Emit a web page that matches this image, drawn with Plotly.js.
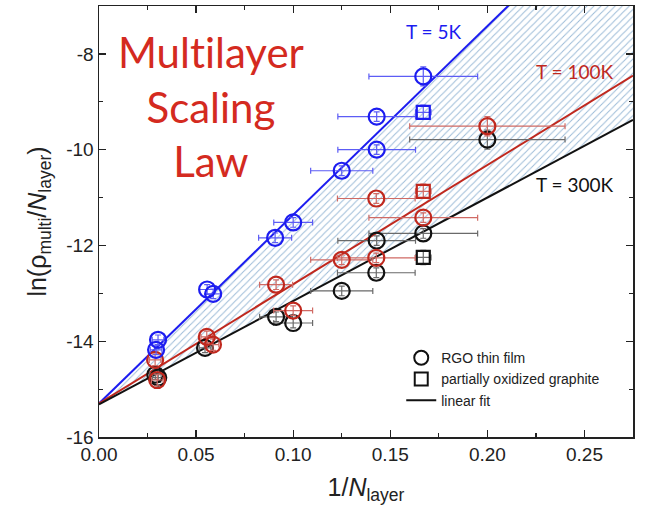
<!DOCTYPE html>
<html>
<head>
<meta charset="utf-8">
<script src="https://cdn.plot.ly/plotly-3.0.1.min.js"></script>
<style>html,body{margin:0;padding:0;background:#fff;}#chart{width:654px;height:517px;}
text{font-variant-ligatures:none;font-feature-settings:"liga" 0;}</style>
</head>
<body>
<div id="chart"></div>
<script>
// ---- Data ----
// T = 5K (blue)
const blueCircX = [0.0294, 0.0304, 0.0557, 0.0588, 0.0907, 0.100, 0.125, 0.143, 0.143, 0.167];
const blueCircY = [-14.18, -13.97, -12.92, -13.01, -11.84, -11.52, -10.44, -10.00, -9.31, -8.47];
const blueCircXErr = [0.003, 0.003, 0.004, 0.004, 0.0085, 0.010, 0.016, 0.020, 0.020, 0.028];
const blueCircYErr = [0.10, 0.10, 0.10, 0.10, 0.10, 0.10, 0.10, 0.10, 0.10, 0.20];
const blueSqX = [0.167];
const blueSqY = [-9.22];
// T = 100K (red)
const redCircX = [0.0289, 0.0300, 0.0555, 0.0587, 0.0912, 0.100, 0.125, 0.1428, 0.1428, 0.167, 0.200];
const redCircY = [-14.39, -14.81, -13.91, -14.07, -12.82, -13.36, -12.30, -12.26, -11.02, -11.42, -9.51];
const redCircXErr = [0.003, 0.003, 0.003, 0.003, 0.0085, 0.010, 0.016, 0.020, 0.020, 0.028, 0.040];
const redCircYErr = [0.12, 0.12, 0.12, 0.12, 0.10, 0.10, 0.10, 0.10, 0.10, 0.10, 0.20];
const redSqX = [0.167];
const redSqY = [-10.87];
// T = 300K (black)
const blackCircX = [0.0290, 0.0305, 0.0546, 0.0912, 0.100, 0.125, 0.1428, 0.143, 0.167, 0.200];
const blackCircY = [-14.70, -14.76, -14.14, -13.49, -13.62, -12.95, -12.57, -11.90, -11.75, -9.79];
const blackCircXErr = [0.003, 0.003, 0.003, 0.0085, 0.010, 0.016, 0.020, 0.020, 0.028, 0.040];
const blackCircYErr = [0.10, 0.10, 0.10, 0.10, 0.10, 0.10, 0.10, 0.10, 0.10, 0.20];
const blackSqX = [0.167];
const blackSqY = [-12.25];
// Linear fits: ln(rho/N) = intercept + slope * (1/N)
const fitLabels = ['T = 5K', 'T = 100K', 'T = 300K'];
const fitIntercepts = [-15.30, -15.30, -15.32];
const fitSlopes = [39.4, 24.9, 21.6];
const fitXRange = [0, 0.275];
// Tick labels
const yTickVals = [-16, -14, -12, -10, -8];
const yTickText = ['-16', '-14', '-12', '-10', '-8'];
const xTickVals = [0, 0.05, 0.10, 0.15, 0.20, 0.25];
const xTickText = ['0.00', '0.05', '0.10', '0.15', '0.20', '0.25'];

// ---- Build traces ----
const BLUE = '#1c1cf0', RED = '#c0281e', BLACK = '#111111';
const fitColors = [BLUE, RED, BLACK];
function fitLine(i) {
  return { x: fitXRange.slice(), y: fitXRange.map(v => fitIntercepts[i] + fitSlopes[i] * v) };
}
const traces = [];
// hatched band between 300K fit and 5K fit
const lb = fitLine(2), lt = fitLine(0);
traces.push({ x: lb.x, y: lb.y, mode: 'lines', line: { width: 0, color: 'rgba(0,0,0,0)' }, showlegend: false, hoverinfo: 'skip' });
traces.push({ x: lt.x, y: lt.y, mode: 'lines', line: { width: 0, color: 'rgba(0,0,0,0)' }, fill: 'tonexty',
  fillcolor: 'rgba(0,0,0,0)',
  fillpattern: { shape: '/', fgcolor: '#9dbcd8', bgcolor: 'rgba(255,255,255,0)', size: 5, solidity: 0.2 },
  showlegend: false, hoverinfo: 'skip' });
// fit lines
for (let i = 0; i < 3; i++) {
  const l = fitLine(i);
  traces.push({ x: l.x, y: l.y, mode: 'lines', line: { width: 2, color: fitColors[i] }, showlegend: false });
}
function pts(x, y, xe, ye, color, ecolor, symbol) {
  return {
    x: x, y: y, mode: 'markers', showlegend: false,
    marker: { symbol: symbol, size: symbol === 'circle-open' ? 16 : 13, color: color, line: { width: 2.2, color: color } },
    error_x: { type: 'data', array: xe, color: ecolor, thickness: 1.2, width: 3 },
    error_y: { type: 'data', array: ye, color: ecolor, thickness: 1.2, width: 3 }
  };
}
traces.push(pts(blackCircX, blackCircY, blackCircXErr, blackCircYErr, BLACK, '#6a6a6a', 'circle-open'));
traces.push(pts(blackSqX, blackSqY, [0.004], [0.15], BLACK, '#6a6a6a', 'square-open'));
traces.push(pts(redCircX, redCircY, redCircXErr, redCircYErr, RED, '#d06a64', 'circle-open'));
traces.push(pts(redSqX, redSqY, [0.004], [0.15], RED, '#d06a64', 'square-open'));
traces.push(pts(blueCircX, blueCircY, blueCircXErr, blueCircYErr, BLUE, '#5c5cf5', 'circle-open'));
traces.push(pts(blueSqX, blueSqY, [0.004], [0.15], BLUE, '#5c5cf5', 'square-open'));
// legend entries
traces.push({ x: [null], y: [null], mode: 'markers', name: 'RGO thin film', marker: { symbol: 'circle-open', size: 14, color: BLACK, line: { width: 2 } } });
traces.push({ x: [null], y: [null], mode: 'markers', name: 'partially oxidized graphite', marker: { symbol: 'square-open', size: 13, color: BLACK, line: { width: 2 } } });
traces.push({ x: [null], y: [null], mode: 'lines', name: 'linear fit', line: { color: BLACK, width: 2 } });

const labelPos = [[0.1725, -7.53], [0.245, -8.36], [0.245, -10.73]];
const annotations = fitLabels.map((t, i) => ({
  text: t, x: labelPos[i][0], y: labelPos[i][1], xref: 'x', yref: 'y', showarrow: false,
  font: { family: 'Lato, sans-serif', size: 19, color: fitColors[i] }, xanchor: 'center', yanchor: 'middle'
}));
annotations.push({
  text: 'Multilayer<br>Scaling<br>Law', x: 0.0577, y: -9.1, xref: 'x', yref: 'y', showarrow: false,
  font: { family: 'Lato, sans-serif', size: 42, color: '#d42a20' }, align: 'center', xanchor: 'center', yanchor: 'middle'
});

const axisCommon = {
  showline: true, linecolor: '#222', linewidth: 1.5, mirror: 'allticks',
  ticks: 'inside', ticklen: 7, tickwidth: 1.3, tickcolor: '#222',
  showgrid: false, zeroline: false,
  tickfont: { family: 'Liberation Sans, Arial, sans-serif', size: 19, color: '#222' }
};
const layout = {
  width: 654, height: 517,
  margin: { l: 99, r: 21, t: 6, b: 80 },
  paper_bgcolor: '#fff', plot_bgcolor: '#fff',
  showlegend: true,
  legend: { x: 0.566, y: 0.22, xanchor: 'left', yanchor: 'top', bgcolor: 'rgba(0,0,0,0)', traceorder: 'normal',
    font: { family: 'Liberation Sans, Arial, sans-serif', size: 14, color: '#222' }, tracegroupgap: 0, itemsizing: 'trace' },
  xaxis: Object.assign({}, axisCommon, {
    range: [0, 0.275], tickmode: 'array', tickvals: xTickVals, ticktext: xTickText,
    minor: { ticks: 'inside', dtick: 0.025, ticklen: 4, tickwidth: 1.2, tickcolor: '#222' },
    title: { text: '1/<i>N</i><sub>layer</sub>', font: { family: 'Liberation Sans, Arial, sans-serif', size: 25, color: '#222' }, standoff: 14 }
  }),
  yaxis: Object.assign({}, axisCommon, {
    range: [-16, -7], tickmode: 'array', tickvals: yTickVals, ticktext: yTickText,
    minor: { ticks: 'inside', dtick: 1, ticklen: 4, tickwidth: 1.2, tickcolor: '#222' },
    title: { text: 'ln(ρ<sub>multi</sub>/<i>N</i><sub>layer</sub>)', font: { family: 'Liberation Sans, Arial, sans-serif', size: 25, color: '#222' }, standoff: 12 }
  }),
  annotations: annotations
};
Plotly.newPlot('chart', traces, layout, { displayModeBar: false, staticPlot: true });
</script>
</body>
</html>
